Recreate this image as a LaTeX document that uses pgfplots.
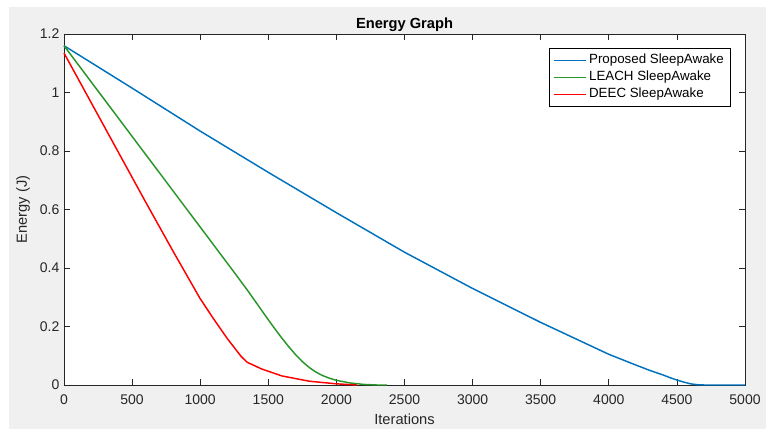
\documentclass[border=0pt]{standalone}
\usepackage{pgfplots}
\pgfplotsset{compat=1.18}
\usepackage{fontspec}
\setmainfont{Liberation Sans}

\definecolor{mblue}{rgb}{0,0.447,0.741}
\definecolor{mgreen}{RGB}{40,150,40}
\definecolor{mred}{RGB}{255,0,0}
\definecolor{figgrey}{RGB}{240,240,240}
\definecolor{axgrey}{rgb}{0.15,0.15,0.15}

\begin{document}
\begin{tikzpicture}
% figure background (1px = 0.75pt)
\fill[white] (-48pt,-33pt) rectangle (526.5pt,288.75pt);
\fill[figgrey] (-41.25pt,-33pt) rectangle (526.5pt,283.5pt);
\begin{axis}[
    scale only axis,
    width=510.75pt, height=263.25pt,
    xmin=0, xmax=5000, ymin=0, ymax=1.2,
    xtick={0,500,1000,1500,2000,2500,3000,3500,4000,4500,5000},
    ytick={0,0.2,0.4,0.6,0.8,1,1.2},
    scaled ticks=false,
    /pgf/number format/assume math mode=true,
    /pgf/number format/1000 sep={},
    tick align=inside,
    major tick length=4.5pt,
    tick style={axgrey, line width=0.6pt},
    axis line style={axgrey, line width=0.6pt},
    axis background/.style={fill=white},
    tick label style={font=\fontsize{10.5}{12}\selectfont, text=axgrey},
    xticklabel style={yshift=-3.5pt},
    title={\textbf{Energy Graph}},
    title style={yshift=-8pt, font=\fontsize{11}{13}\selectfont, text=black},
    xlabel={Iterations},
    xlabel style={at={(axis description cs:0.5,-0.098)}, anchor=center,
        font=\fontsize{11}{13}\selectfont, text=axgrey},
    ylabel={Energy (J)},
    ylabel style={at={(axis description cs:-0.060,0.5)}, anchor=center,
        font=\fontsize{11}{13}\selectfont, text=axgrey},
    clip=false,
    legend style={at={(axis description cs:0.979,0.960)}, anchor=north east,
        draw=black, fill=white, font=\fontsize{10}{12}\selectfont,
        inner xsep=3pt, inner ysep=2.5pt, row sep=0pt},
    legend cell align=left,
    legend image code/.code={\draw[#1, line width=0.9pt] (0pt,0pt) -- (24pt,0pt);},
]
\addplot[mblue, line width=1.1pt] coordinates {
(0,1.16)(500,1.015)(1000,0.868)(1500,0.727)(2000,0.589)(2500,0.454)
(3000,0.33)(3500,0.214)(4000,0.105)(4200,0.068)(4300,0.050)(4400,0.034)
(4450,0.025)(4500,0.017)(4550,0.010)(4600,0.004)(4650,0.001)(4700,0)(5000,0)};
\addplot[mgreen, line width=1.1pt] coordinates {
(0,1.16)(500,0.85)(1000,0.54)(1250,0.385)(1350,0.322)(1400,0.289)(1450,0.256)
(1500,0.223)(1550,0.191)(1600,0.160)(1650,0.131)(1700,0.104)(1750,0.080)
(1800,0.060)(1850,0.044)(1900,0.032)(1950,0.023)(2000,0.016)(2100,0.007)
(2200,0.002)(2300,0)(2370,0)};
\addplot[mred, line width=1.1pt] coordinates {
(0,1.135)(200,0.965)(400,0.795)(600,0.625)(800,0.458)(1000,0.295)
(1100,0.225)(1200,0.158)(1300,0.098)(1344,0.078)(1450,0.055)(1600,0.031)
(1800,0.013)(2000,0.004)(2150,0)};
\legend{Proposed SleepAwake, LEACH SleepAwake, DEEC SleepAwake}
\end{axis}
\pgfresetboundingbox
\useasboundingbox (-48pt,-33pt) rectangle (526.5pt,288.75pt);
\end{tikzpicture}
\end{document}
